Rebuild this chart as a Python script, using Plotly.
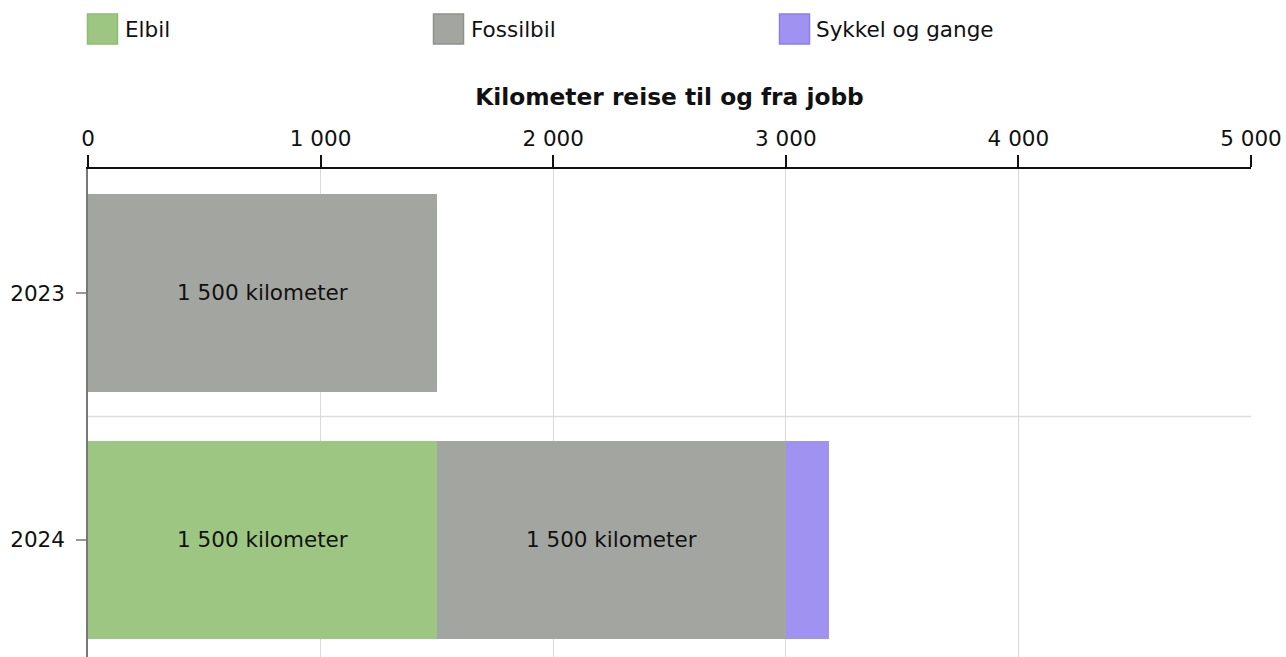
import plotly.graph_objects as go

years = ["2023", "2024"]
series_names = ["Elbil", "Fossilbil", "Sykkel og gange"]
elbil = [0, 1500]
fossilbil = [1500, 1500]
sykkel = [0, 185]
colors = ["#9dc682", "#a3a5a0", "#9f92f0"]
border_colors = ["#8cbf6c", "#8f918c", "#8b7df0"]
x_ticks = [0, 1000, 2000, 3000, 4000, 5000]
title = "Kilometer reise til og fra jobb"

W, H = 1286, 657
L, R, T, B = 88, 35, 169, 0
PW, PH = W - L - R, H - T - B
FONT = "DejaVu Sans, Verdana, sans-serif"
FS = 21.5


def px_x(px):
    return (px - L) / PW


def px_y(py):
    return (H - B - py) / PH


fig = go.Figure()
for name, vals, col in zip(series_names, [elbil, fossilbil, sykkel], colors):
    fig.add_trace(go.Bar(
        y=years, x=vals, name=name, orientation="h",
        marker=dict(color=col, line=dict(width=0)),
        width=0.8,
        texttemplate="%{x:,.0f} kilometer",
        textposition="inside",
        textangle=0,
        insidetextanchor="middle",
        insidetextfont=dict(color="#111111", family=FONT, size=FS),
        showlegend=False,
        hoverinfo="skip",
    ))

# custom legend
shapes = []
annotations = []
for i, (name, col, bc) in enumerate(zip(series_names, colors, border_colors)):
    x0 = 87.5 + i * 346
    shapes.append(dict(type="rect", xref="paper", yref="paper",
                       x0=px_x(x0), x1=px_x(x0 + 30), y0=px_y(44), y1=px_y(14),
                       fillcolor=col, line=dict(color=bc, width=1.5)))
    annotations.append(dict(xref="paper", yref="paper", x=px_x(x0 + 35), y=px_y(29),
                            text=name, showarrow=False, xanchor="left", yanchor="middle",
                            font=dict(family=FONT, size=FS, color="#111111")))

# separator between categories
shapes.append(dict(type="line", xref="paper", yref="y", x0=0, x1=1, y0=0.5, y1=0.5,
                   line=dict(color="#dddddd", width=1.5), layer="below"))

fig.update_layout(
    width=W, height=H,
    margin=dict(l=L, r=R, t=T, b=B, pad=0),
    paper_bgcolor="white", plot_bgcolor="white",
    barmode="stack",
    bargap=0.2,
    separators=", ",
    font=dict(family=FONT, size=FS, color="#111111"),
    uniformtext=dict(mode="hide", minsize=FS),
    shapes=shapes,
    annotations=annotations,
    xaxis=dict(
        side="top", range=[0, 5000], tickvals=x_ticks, tickformat=",.0f",
        showgrid=True, gridcolor="#d9d9d9", gridwidth=1,
        showline=True, linecolor="#111111", linewidth=2,
        ticks="outside", ticklen=12, tickwidth=1.5, tickcolor="#111111",
        zeroline=False,
        title=dict(text="<b>" + title + "</b>", font=dict(family=FONT, size=23.3, color="#111111"),
                   standoff=14),
        tickfont=dict(family=FONT, size=FS, color="#111111"),
        fixedrange=True,
    ),
    yaxis=dict(
        type="category", categoryorder="array", categoryarray=years,
        range=[1.474, -0.502],
        showgrid=False, zeroline=False,
        showline=True, linecolor="#777777", linewidth=1.5,
        ticks="outside", ticklen=10, tickwidth=1.5, tickcolor="#999999",
        tickfont=dict(family=FONT, size=FS, color="#111111"),
        ticklabelstandoff=7,
        fixedrange=True,
    ),
)

fig.write_html(
    "out.html",
    config={"displayModeBar": False},
    post_script="document.body.style.margin='0';document.body.style.overflow='hidden';",
)
